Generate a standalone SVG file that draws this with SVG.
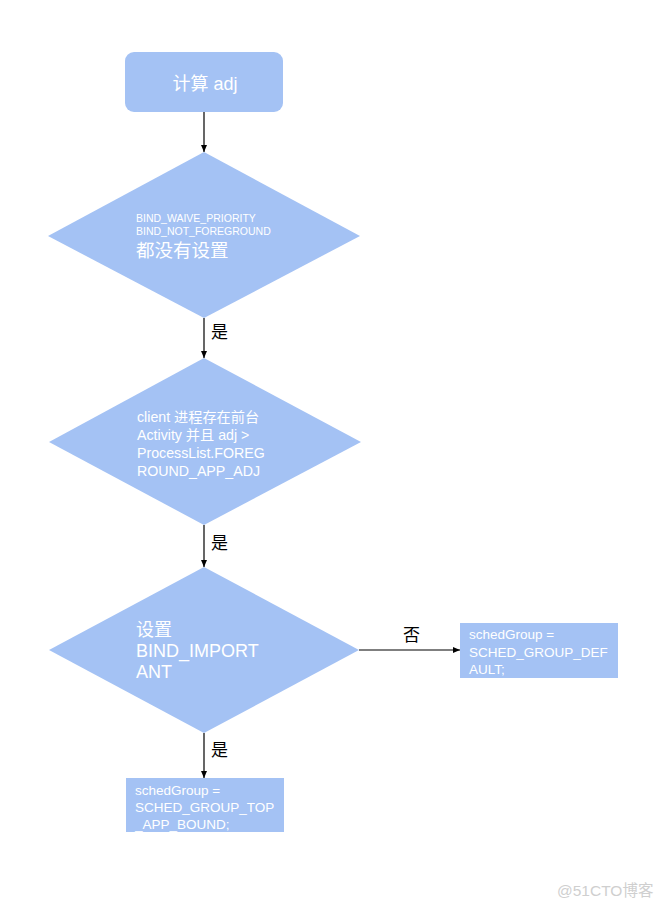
<svg xmlns="http://www.w3.org/2000/svg" width="667" height="909" viewBox="0 0 667 909">
<defs>
<style>
.shape{fill:#a4c2f4;}
.t{fill:#ffffff;font-family:"Liberation Sans","Noto Sans CJK SC",sans-serif;}
.lbl{fill:#000000;font-family:"Liberation Sans","Noto Sans CJK SC",sans-serif;font-size:17px;}
.edge{stroke:#000000;stroke-width:1.2;fill:none;marker-end:url(#ah);}
</style>
<marker id="ah" markerWidth="8" markerHeight="8" refX="7" refY="4" orient="auto" markerUnits="userSpaceOnUse">
<path d="M0,1 L7,4 L0,7 Z" fill="#000"/>
</marker>
</defs>
<rect width="667" height="909" fill="#ffffff"/>
<g id="connectors">
<line class="edge" x1="204" y1="112" x2="204" y2="152"/>
<line class="edge" x1="204" y1="318" x2="204" y2="358"/>
<line class="edge" x1="204" y1="525" x2="204" y2="567"/>
<line class="edge" x1="359" y1="650" x2="460" y2="650"/>
<line class="edge" x1="204" y1="733" x2="204" y2="778"/>
<text class="lbl" x="211" y="338">是</text>
<text class="lbl" x="211" y="549">是</text>
<text class="lbl" x="403" y="641">否</text>
<text class="lbl" x="211" y="756">是</text>
</g>
<g id="start">
<rect class="shape" x="125" y="52" width="158" height="60" rx="9"/>
<text class="t" x="205" y="90" font-size="18" text-anchor="middle">计算 adj</text>
</g>
<g id="decision1">
<polygon class="shape" points="204,152 360,236 204,318 48,236"/>
<text class="t" x="136" y="222" font-size="10.5">BIND_WAIVE_PRIORITY</text>
<text class="t" x="136" y="235" font-size="10.5">BIND_NOT_FOREGROUND</text>
<text class="t" x="136" y="257" font-size="18.5">都没有设置</text>
</g>
<g id="decision2">
<polygon class="shape" points="204,358 361,442 204,525 49,442"/>
<text class="t" x="137" y="422" font-size="14.2">client 进程存在前台</text>
<text class="t" x="137" y="440" font-size="14.2">Activity 并且 adj &gt;</text>
<text class="t" x="137" y="458" font-size="14.2">ProcessList.FOREG</text>
<text class="t" x="137" y="476" font-size="14.2">ROUND_APP_ADJ</text>
</g>
<g id="decision3">
<polygon class="shape" points="204,567 359,650 204,733 49,650"/>
<text class="t" x="136" y="636" font-size="18">设置</text>
<text class="t" x="136" y="657" font-size="18">BIND_IMPORT</text>
<text class="t" x="136" y="678" font-size="18">ANT</text>
</g>
<g id="default">
<rect class="shape" x="460" y="623" width="158" height="55"/>
<text class="t" x="469" y="639" font-size="13.5">schedGroup =</text>
<text class="t" x="469" y="657" font-size="13.5">SCHED_GROUP_DEF</text>
<text class="t" x="469" y="674" font-size="13.5">AULT;</text>
</g>
<g id="topbound">
<rect class="shape" x="126" y="778" width="158" height="54"/>
<text class="t" x="135" y="795" font-size="13.5">schedGroup =</text>
<text class="t" x="135" y="812" font-size="13.5">SCHED_GROUP_TOP</text>
<text class="t" x="135" y="829" font-size="13.5">_APP_BOUND;</text>
</g>
<text x="557" y="896" font-size="15.5" fill="#cfcfcf" font-family="Liberation Sans,'Noto Sans CJK SC',sans-serif">@51CTO博客</text>
</svg>
